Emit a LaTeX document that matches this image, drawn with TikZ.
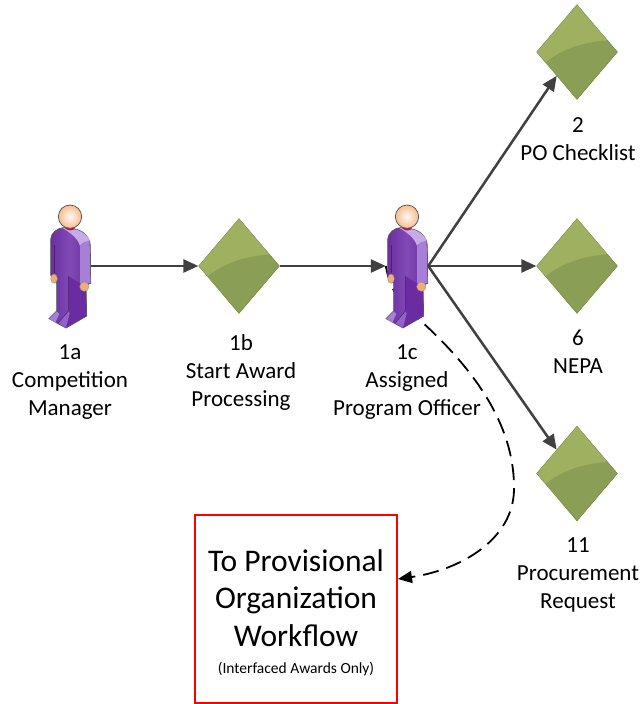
\documentclass[tikz,border=0pt]{standalone}
\usepackage{fontspec}
\setmainfont{Carlito}
\usetikzlibrary{arrows.meta, positioning, shapes.geometric}
\definecolor{DiamondTop}{HTML}{9FB160}
\definecolor{DiamondLow}{HTML}{8A9E55}
\definecolor{SuitDark}{HTML}{6A2CA0}
\definecolor{SuitMid}{HTML}{9462C6}
\definecolor{SuitLight}{HTML}{A67FD6}
\definecolor{SuitPale}{HTML}{C6ABE6}
\definecolor{LineGrey}{HTML}{404040}
\definecolor{SkinTone}{HTML}{F0AE72}
\definecolor{HeadTone}{HTML}{F3BE90}

\tikzset{
  figure/.pic = {
    \begin{scope}[shift={(-40,-70)}, scale=1/3]
    % body
    \draw[black!65, line width=.7pt, left color=SuitDark, right color=SuitDark, middle color=SuitMid!55!SuitDark]
      (62,130) .. controls (62,110) and (85,95) .. (100,95) -- (140,100)
      .. controls (165,108) and (180,125) .. (181,150) -- (182,262) -- (168,268)
      -- (170,360) -- (108,396) -- (57,368) -- (80,345) -- (80,262) -- (62,238) -- cycle;
    % right leg
    \fill[SuitDark] (115,240) -- (150,262) -- (168,268) -- (169.5,360) -- (108,395) -- (116,345) -- cycle;
    % shoulder and arm
    \fill[SuitPale] (98,96) -- (140,101) .. controls (163,109) and (176,122) .. (179,136)
      .. controls (165,136) and (155,142) .. (150,150) .. controls (145,130) and (125,112) .. (98,96) -- cycle;
    \fill[SuitLight] (150,150) .. controls (155,142) and (165,136) .. (179,136) -- (181,262) -- (150,262) -- cycle;
    % feet
    \fill[SuitLight] (58,368) -- (80,346) -- (88,354) -- (76,380) -- cycle;
    \fill[SuitMid] (84,380) -- (115,346) -- (119,352) -- (108,395) -- cycle;
    \draw[SuitDark!70!black, line width=.5pt] (115,240) -- (115,345) -- (84,382);
    \draw[SuitDark!70!black, line width=.3pt] (72,148) -- (72,232);
    % hands and neck
    \draw[black!45, line width=.3pt, fill=SkinTone] (72,248) ellipse [x radius=10, y radius=14];
    \draw[black!45, line width=.3pt, fill=SkinTone] (163,272) circle [radius=14];
    \fill[red!55!SuitDark] (103,94) .. controls (112,106) and (128,106) .. (136,96) -- cycle;
    % head
    \draw[black!70, line width=.7pt, inner color=white!90!HeadTone, outer color=HeadTone]
      (120,62) circle [radius=35];
    \end{scope}
  }
}

\begin{document}
\begin{tikzpicture}[x=1pt, y=-1pt,
    D/.style = {diamond, inner sep=0pt, minimum width=81pt, minimum height=95pt, aspect=1,
                draw=DiamondLow!80!black, line width=.3pt, fill=DiamondTop,
                path picture={
                  \begin{scope}[shift={(path picture bounding box.center)}]
                    \fill[DiamondLow] (-31,10) .. controls (-12,-5) and (10,-10) .. (30.7,-11.7)
                      -- (41,0) -- (0,48) -- cycle;
                  \end{scope}}},
    P/.style = {minimum width=42pt, minimum height=124pt, inner sep=0pt},
    T/.style = {align=center, inner sep=0pt, font=\fontsize{23}{28}\selectfont},
    every edge/.style = {draw=LineGrey, line width=2.5pt, -{Triangle[length=15pt, width=13pt]}}
  ]
\useasboundingbox (0,0) rectangle (640,704);

\node[P] (p1a) at (70,266) {};
\node[D] (d1b) at (239,266) {};
\node[P] (p1c) at (407,266) {};
\node[D] (d2) at (577,52) {};
\node[D] (d6) at (577,266) {};
\node[D] (d11) at (577,473.5) {};

\node[T, below=16pt of p1a] (t1a) {1a\\Competition\\Manager};
\node[T, below=21pt of d1b, xshift=2pt] (t1b) {1b\\Start Award\\Processing};
\node[T, below=18pt of d2, xshift=1pt] (t2) {2\\PO Checklist};
\node[T, below=16pt of d6, xshift=1pt] (t6) {6\\NEPA};
\node[T, below=16pt of d11, xshift=1pt] (t11) {11\\Procurement\\Request};

\node[draw=red, line width=2pt, minimum width=202pt, minimum height=188pt, inner sep=0pt,
      align=center, anchor=north west, font=\fontsize{31.5}{37.5}\selectfont] (box) at (194,514)
  {\rule{0pt}{29pt}To Provisional\\ Organization\\ Workflow\\[-10pt]
   {\fontsize{15.5}{20}\selectfont (Interfaced Awards Only)}};

% dashed hand-off runs behind the figure
\draw[black, line width=1.8pt, dash pattern=on 16pt off 8pt, -{Triangle[length=14pt, width=12pt]}]
  (p1c.west) .. controls (392,300) and (410,311) .. (422,322)
  .. controls (480,375) and (515,430) .. (514,490)
  .. controls (513,540) and (460,570) .. ([yshift=30pt]box.east);

\node[T, below=16pt of p1c] (t1c) {1c\\Assigned\\Program Officer};

\pic at (p1a) {figure};
\pic at (p1c) {figure};

\draw (p1a.east) edge (d1b.west)
      (d1b.east) edge (p1c.west)
      (p1c.east) edge (d2.south west)
      (p1c.east) edge (d6.west)
      (p1c.east) edge (d11.north west);
\end{tikzpicture}
\end{document}
